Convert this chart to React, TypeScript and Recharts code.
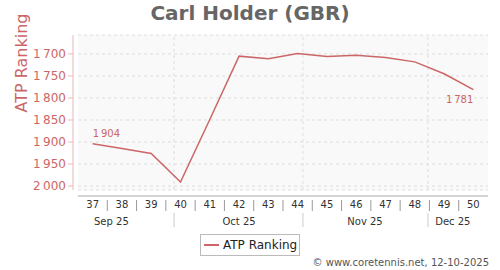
import {
  LineChart,
  Line,
  XAxis,
  YAxis,
  CartesianGrid,
  Legend,
  LabelList,
  ReferenceLine,
  ReferenceArea,
} from "recharts";

if (typeof document !== "undefined") document.body.style.margin = "0";

// ranking history, ISO weeks 37..50 of 2025
const weeks = ["37", "38", "39", "40", "41", "42", "43", "44", "45", "46", "47", "48", "49", "50"];
const rankings = [1904, 1915, 1926, 1991, 1849, 1705, 1711, 1699, 1706, 1703, 1708, 1718, 1745, 1781];
const rankTicks = [1700, 1750, 1800, 1850, 1900, 1950, 2000];

// month row, positions in week-index units
const monthLabels = ["Sep 25", "Oct 25", "Nov 25", "Dec 25"];
const monthCenters = [0.64, 5.0, 9.3, 12.3];
const monthBounds = [2.78, 7.18, 11.45];

const RED = "#cc6666";
const PALE = "#e6b8b8";

const data = weeks.map((w, i) => ({ week: w, idx: i, rank: rankings[i] }));

const fmt = (v: number) => `${Math.floor(v / 1000)}\u2009${String(v % 1000).padStart(3, "0")}`;

function RankTick({ x, y, payload }: any) {
  return (
    <g>
      <line x1={x + 2} x2={x + 7} y1={y} y2={y} stroke={PALE} />
      <text x={x} y={y} dy={4} textAnchor="end" fontSize={12} fill={RED}>
        {fmt(payload.value)}
      </text>
    </g>
  );
}

function WeekTick({ x, y, payload, index }: any) {
  const half = payload.offset || 14.6;
  return (
    <g>
      <text x={x} y={y} dy={12} textAnchor="middle" fontSize={10} fill="#333">
        {payload.value}
      </text>
      {index < weeks.length - 1 && (
        <line x1={x + half} x2={x + half} y1={y + 4} y2={y + 15} stroke="#999" />
      )}
    </g>
  );
}

function MonthTick({ x, y, payload }: any) {
  const bi = monthBounds.indexOf(payload.value);
  if (bi >= 0) {
    return <line x1={x} x2={x} y1={y + 1} y2={y + 15} stroke="#ccc" />;
  }
  const mi = monthCenters.indexOf(payload.value);
  return (
    <text x={x} y={y} dy={12.5} textAnchor="middle" fontSize={10} fill="#333">
      {monthLabels[mi]}
    </text>
  );
}

function PointLabel({ x, y, index, value }: any) {
  if (index === 0) {
    return (
      <text x={x} y={y - 7} textAnchor="start" fontSize={10} fill={RED}>
        {fmt(value)}
      </text>
    );
  }
  if (index === rankings.length - 1) {
    return (
      <text x={x} y={y + 13} textAnchor="end" fontSize={10} fill={RED}>
        {fmt(value)}
      </text>
    );
  }
  return null;
}

function LegendBox() {
  return (
    <div
      style={{
        border: "1px solid #bbb",
        background: "#fff",
        height: 22,
        boxSizing: "border-box",
        display: "flex",
        alignItems: "center",
        paddingLeft: 3,
        fontSize: 12,
        color: "#222",
        fontFamily: "DejaVu Sans",
      }}
    >
      <span style={{ display: "inline-block", width: 15, height: 2, background: RED, marginRight: 4 }} />
      ATP Ranking
    </div>
  );
}

export default function App() {
  return (
    <div style={{ position: "relative", width: 500, height: 270, fontFamily: "DejaVu Sans", background: "#fff" }}>
      <div
        style={{
          position: "absolute",
          top: 1,
          left: 0,
          width: 500,
          textAlign: "center",
          fontSize: 20,
          fontWeight: "bold",
          color: "#666",
        }}
      >
        Carl Holder (GBR)
      </div>
      <LineChart width={500} height={270} data={data} margin={{ top: 35, right: 12, bottom: 40, left: 0 }}>
        <XAxis
          xAxisId="a-pad"
          dataKey="week"
          scale="band"
          height={6}
          tick={false}
          axisLine={false}
          tickLine={false}
        />
        <XAxis
          xAxisId="b-week"
          dataKey="week"
          scale="band"
          height={16}
          tickSize={0}
          tickMargin={0}
          tickLine={false}
          axisLine={{ stroke: "#aaa" }}
          tick={<WeekTick />}
          interval={0}
        />
        <XAxis
          xAxisId="c-month"
          dataKey="idx"
          type="number"
          domain={[-0.5, 13.5]}
          allowDataOverflow
          ticks={[...monthCenters, ...monthBounds]}
          height={18}
          tickSize={0}
          tickMargin={0}
          tickLine={false}
          axisLine={false}
          tick={<MonthTick />}
          interval={0}
        />
        <YAxis yAxisId="pad" width={5} tick={false} axisLine={false} tickLine={false} domain={[0, 1]} />
        <YAxis
          yAxisId="rank"
          reversed
          domain={[1657, 2009]}
          ticks={rankTicks}
          width={73}
          tickSize={0}
          tickMargin={7}
          tickLine={false}
          axisLine={{ stroke: PALE }}
          tick={<RankTick />}
          interval={0}
          allowDataOverflow
          label={{ value: "ATP Ranking", angle: -90, position: "insideLeft", offset: 21, fill: RED, fontSize: 16 }}
        />
        <CartesianGrid
          xAxisId="b-week"
          yAxisId="rank"
          vertical={false}
          stroke="#ddd"
          strokeDasharray="3 3"
          fill="#f9f9f9"
        />
        {monthBounds.map((b) => (
          <ReferenceLine key={b} xAxisId="c-month" yAxisId="rank" x={b} stroke="#ddd" strokeDasharray="3 3" />
        ))}
        <ReferenceArea xAxisId="b-week" yAxisId="rank" fill="none" stroke="#808080" strokeWidth={1} />
        <Line
          xAxisId="b-week"
          yAxisId="rank"
          dataKey="rank"
          name="ATP Ranking"
          type="linear"
          stroke={RED}
          strokeWidth={1.5}
          dot={false}
          isAnimationActive={false}
        >
          <LabelList dataKey="rank" content={<PointLabel />} />
        </Line>
        <Legend
          layout="vertical"
          align="center"
          verticalAlign="middle"
          content={<LegendBox />}
          wrapperStyle={{ top: 234, left: 200, width: 100 }}
        />
      </LineChart>
      <div
        style={{
          position: "absolute",
          right: 11,
          top: 257,
          fontSize: 10,
          color: "#555",
        }}
      >
        © www.coretennis.net, 12-10-2025
      </div>
    </div>
  );
}
